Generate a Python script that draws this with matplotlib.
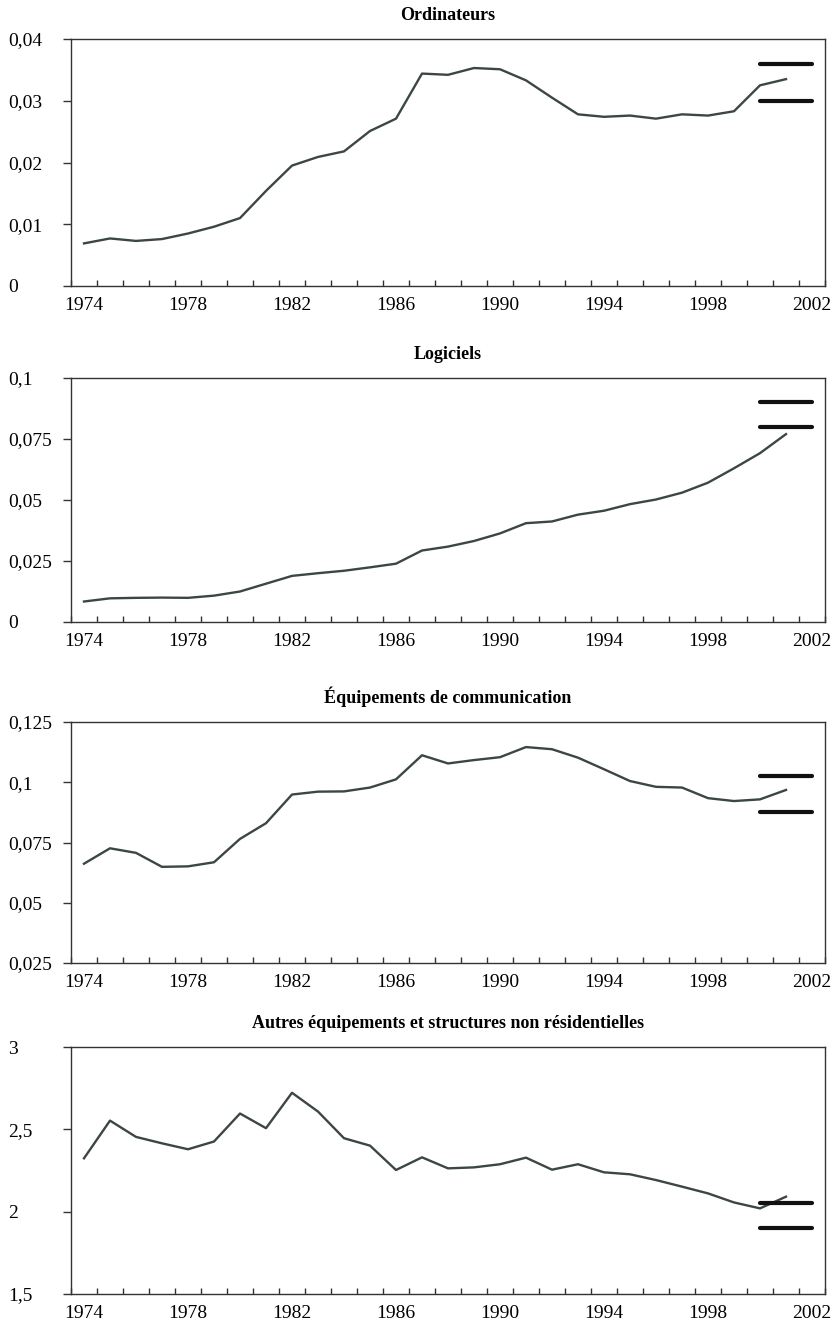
import matplotlib
matplotlib.use("Agg")
import matplotlib.pyplot as plt
import numpy as np

plt.rcParams['font.family'] = ['Liberation Serif', 'DejaVu Serif']

years = list(range(1974, 2002))

titles = ["Ordinateurs", "Logiciels", "Équipements de communication",
          "Autres équipements et structures non résidentielles"]

ordinateurs = [0.0069, 0.0077, 0.0073, 0.0076, 0.0085, 0.0096, 0.0110, 0.0154,
               0.0195, 0.0209, 0.0218, 0.0251, 0.0271, 0.0344, 0.0342, 0.0353,
               0.0351, 0.0333, 0.0305, 0.0278, 0.0274, 0.0276, 0.0271, 0.0278,
               0.0276, 0.0283, 0.0325, 0.0335]
logiciels = [0.0084, 0.0097, 0.0099, 0.0100, 0.0099, 0.0108, 0.0125, 0.0157,
             0.0189, 0.0200, 0.0210, 0.0224, 0.0239, 0.0293, 0.0309, 0.0332,
             0.0363, 0.0405, 0.0412, 0.0440, 0.0456, 0.0483, 0.0502, 0.0530,
             0.0571, 0.0630, 0.0692, 0.0770]
communication = [0.0662, 0.0726, 0.0707, 0.0649, 0.0651, 0.0668, 0.0765, 0.0830,
                 0.0949, 0.0961, 0.0962, 0.0978, 0.1012, 0.1112, 0.1078, 0.1092,
                 0.1104, 0.1146, 0.1137, 0.1102, 0.1054, 0.1005, 0.0981, 0.0978,
                 0.0934, 0.0922, 0.0929, 0.0968]
autres = [2.324, 2.553, 2.454, 2.415, 2.379, 2.426, 2.596, 2.507, 2.722, 2.608,
          2.446, 2.401, 2.253, 2.330, 2.263, 2.269, 2.288, 2.328, 2.255, 2.288,
          2.239, 2.227, 2.192, 2.152, 2.111, 2.056, 2.020, 2.091]

series = [ordinateurs, logiciels, communication, autres]

bar_start, bar_end = 2000, 2002
bars = [[0.036, 0.030], [0.090, 0.080], [0.1026, 0.0875], [2.05, 1.90]]

yticks = [[0, 0.01, 0.02, 0.03, 0.04],
          [0, 0.025, 0.05, 0.075, 0.1],
          [0.025, 0.05, 0.075, 0.1, 0.125],
          [1.5, 2, 2.5, 3]]
ytick_labels = [["0", "0,01", "0,02", "0,03", "0,04"],
                ["0", "0,025", "0,05", "0,075", "0,1"],
                ["0,025", "0,05", "0,075", "0,1", "0,125"],
                ["1,5", "2", "2,5", "3"]]
xtick_years = list(range(1974, 2003, 4))

W, H = 835, 1326
fig = plt.figure(figsize=(W / 100, H / 100), dpi=100)

# axes pixel boxes: (top, bottom)
boxes = [(39, 286), (378, 622), (722, 963), (1047, 1294)]
left_px, right_px = 71, 825

line_color = "#3c4646"
spine_color = "#333333"

for i, (top, bot) in enumerate(boxes):
    ax = fig.add_axes([left_px / W, 1 - bot / H, (right_px - left_px) / W, (bot - top) / H])
    ax.plot(years, series[i], color=line_color, lw=1.7, solid_joinstyle='round')
    for yv in bars[i]:
        ax.plot([bar_start, bar_end], [yv, yv], color="#111111", lw=3.0,
                solid_capstyle='round')
    ax.set_xlim(1973.5, 2002.5)
    ax.set_ylim(yticks[i][0], yticks[i][-1])
    ax.set_yticks(yticks[i])
    ax.set_yticklabels(ytick_labels[i])
    ax.set_xticks(xtick_years)
    ax.set_xticklabels([str(y) for y in xtick_years])
    ax.set_xticks(np.arange(1973.5, 2003.0, 1.0), minor=True)
    ax.tick_params(axis='x', which='major', length=0, pad=8, labelsize=14)
    ax.tick_params(axis='x', which='minor', direction='in', length=4.5,
                   width=1.0, color=spine_color)
    ax.tick_params(axis='y', which='major', direction='out', length=5.5,
                   width=1.0, color=spine_color, labelsize=14, pad=40)
    for lbl in ax.get_yticklabels():
        lbl.set_horizontalalignment('left')
    for s in ax.spines.values():
        s.set_color(spine_color)
        s.set_linewidth(1.0)
    ax.set_title(titles[i], fontsize=13, fontweight='bold', pad=13.5)

fig.savefig("out.png", dpi=100)
